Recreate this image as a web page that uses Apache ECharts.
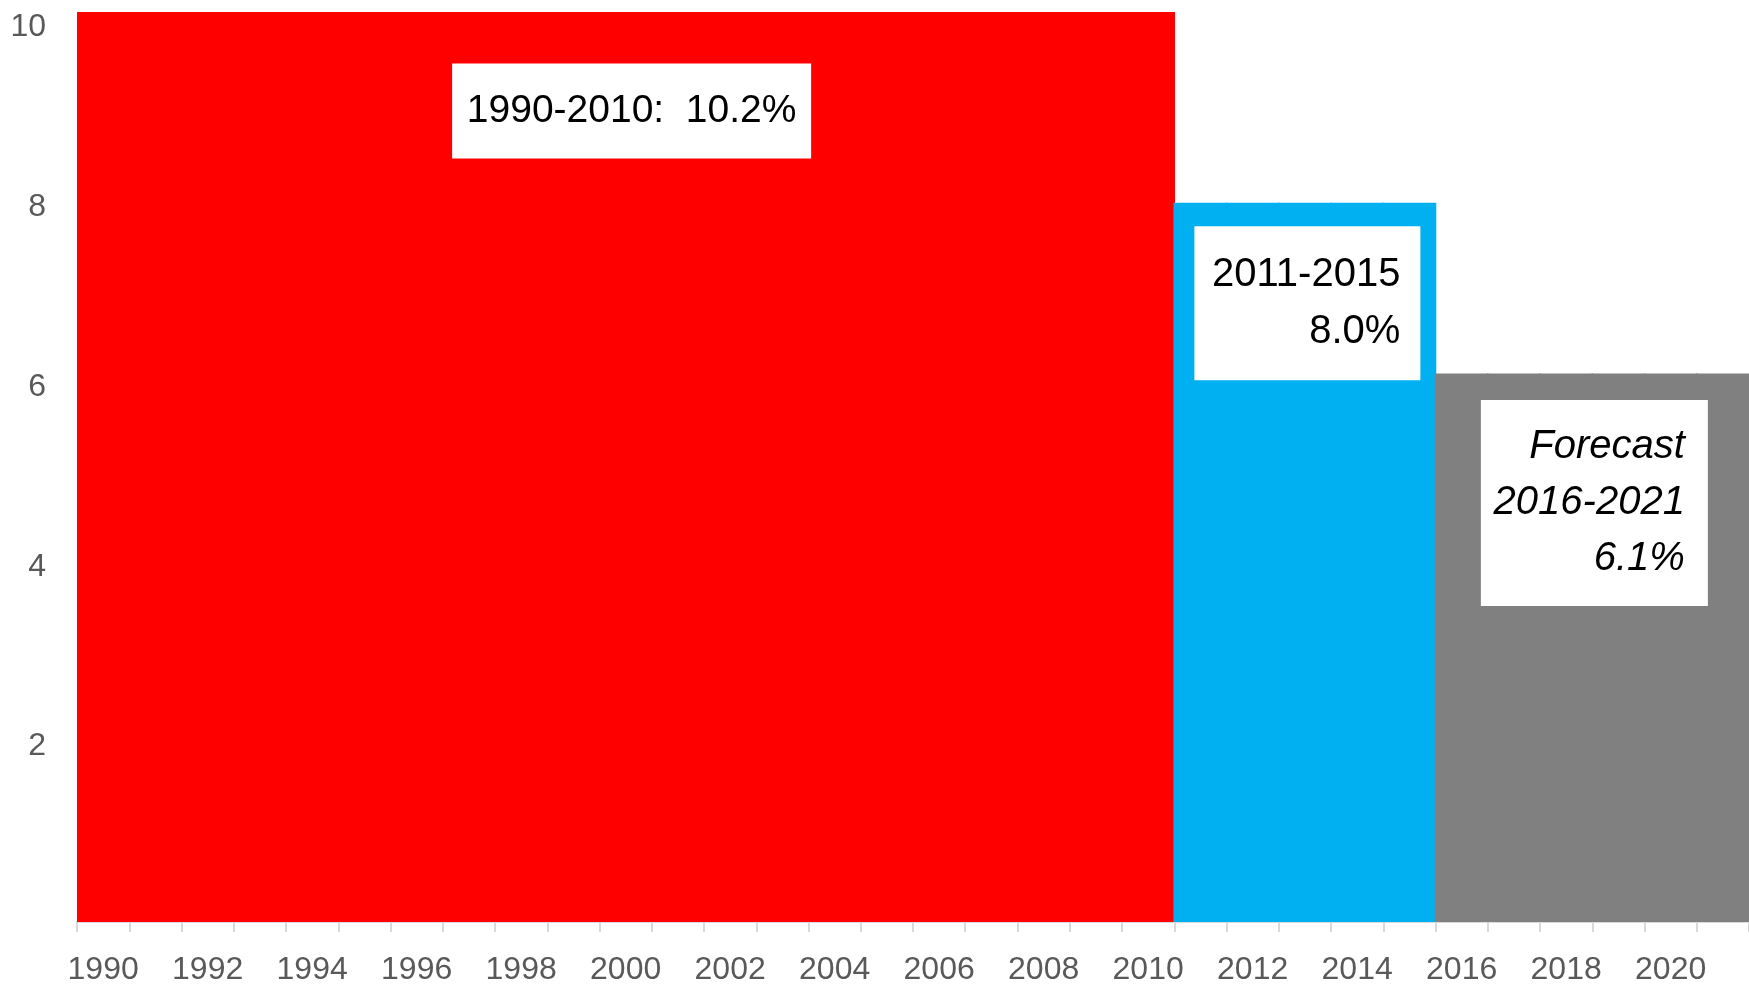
<!DOCTYPE html>
<html>
<head>
<meta charset="utf-8">
<script src="https://cdn.jsdelivr.net/npm/echarts@6/dist/echarts.min.js"></script>
<style>
html,body{margin:0;padding:0;background:#fff;}
#chart{width:1749px;height:986px;}
</style>
</head>
<body>
<div id="chart"></div>
<script>
// ---- data ----
const years = [];
for (let y = 1990; y <= 2021; y++) years.push(String(y));
const periodStart = [1990, 2011, 2016];
const periodEnd = [2010, 2015, 2021];
const periodRate = [10.2, 8.0, 6.1];
const periodColor = ['#FF0000', '#00B0F0', '#808080'];
const yTicks = [2, 4, 6, 8, 10];
const noteTexts = ['1990-2010:  10.2%', '2011-2015\n8.0%', 'Forecast\n2016-2021\n6.1%'];

// build per-year bar values from the periods
const barData = years.map(ys => {
  const y = +ys;
  const i = periodStart.findIndex((s, k) => y >= s && y <= periodEnd[k]);
  return { value: periodRate[i], itemStyle: { color: periodColor[i] } };
});

const FONT = "'Liberation Sans Narrow','Arial Narrow','Liberation Sans',Arial,sans-serif";

const chart = echarts.init(document.getElementById('chart'));
chart.setOption({
  animation: false,
  grid: { left: 77, right: 0, top: 12, bottom: 63 },
  xAxis: {
    type: 'category',
    data: years,
    boundaryGap: true,
    axisLine: { show: true, lineStyle: { color: '#D9D9D9', width: 2 } },
    axisTick: { show: true, interval: 0, length: 10, lineStyle: { color: '#D9D9D9', width: 2 } },
    axisLabel: { interval: 1, color: '#595959', fontFamily: FONT, fontSize: 32, margin: 32 },
    splitLine: { show: false },
    splitArea: { show: false }
  },
  yAxis: {
    type: 'value',
    min: 0, max: 10.12, interval: 2,
    axisLine: { show: false },
    axisTick: { show: false },
    splitLine: { show: false },
    splitArea: { show: false },
    axisLabel: {
      color: '#595959', fontFamily: FONT, fontSize: 32, margin: 31,
      verticalAlign: 'top', lineHeight: 9,
      formatter: v => yTicks.includes(v) ? String(v) : ''
    }
  },
  series: [
    {
      type: 'bar',
      data: barData,
      barWidth: '103%',
      barGap: '-100%',
      clip: true
    },
    {
      type: 'scatter',
      symbolSize: 0,
      silent: true,
      clip: false,
      z: 10,
      itemStyle: { opacity: 1 },
      data: [
        {
          value: ['2000', 9.02],
          label: {
            formatter: noteTexts[0], align: 'center', verticalAlign: 'middle', offset: [6, 0],
            width: 311, padding: [19, 24, 19, 24], lineHeight: 57, fontStyle: 'normal', fontSize: 39
          }
        },
        {
          value: ['2015', 6.88],
          label: {
            formatter: noteTexts[1], align: 'right', verticalAlign: 'middle', offset: [11, 0],
            width: 192, padding: [20, 20, 20, 14], lineHeight: 57, fontStyle: 'normal'
          }
        },
        {
          value: ['2021', 4.66],
          label: {
            formatter: noteTexts[2], align: 'right', verticalAlign: 'middle', offset: [-15, 0],
            width: 192, padding: [19, 23, 19, 12], lineHeight: 56, fontStyle: 'italic'
          }
        }
      ],
      label: {
        show: true,
        position: 'inside',
        color: '#000000',
        opacity: 1,
        fontFamily: FONT,
        fontSize: 40,
        backgroundColor: '#FFFFFF'
      }
    }
  ]
});
</script>
</body>
</html>
